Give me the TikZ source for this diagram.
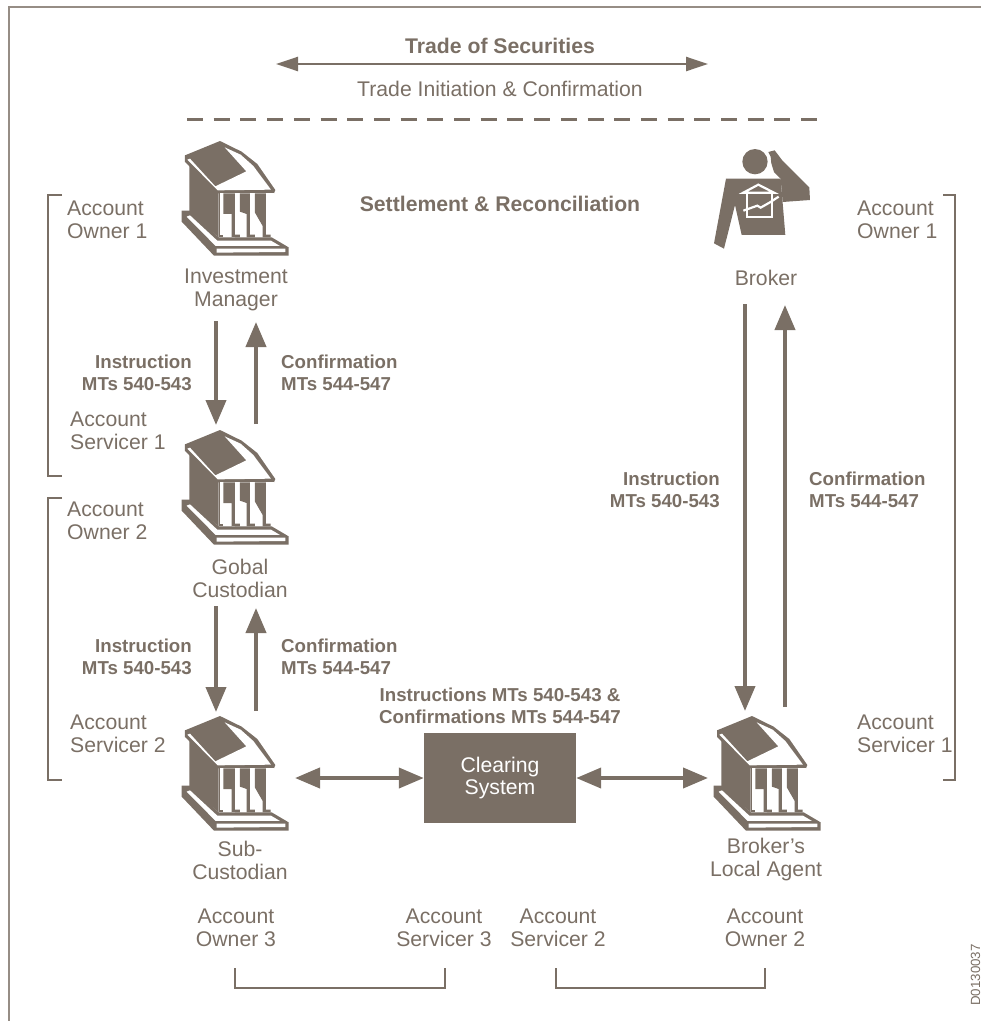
\documentclass[tikz,border=0pt]{standalone}
\usepackage{fontspec}
\setmainfont{Liberation Sans}
\usetikzlibrary{arrows.meta}
\definecolor{ink}{RGB}{122,111,101}
\definecolor{framec}{RGB}{150,141,133}
\tikzset{
  x=1pt,y=-1pt,
  lab/.style={text=ink,font=\fontsize{21.2}{23}\selectfont,inner sep=0pt,align=center,anchor=center},
  labl/.style={lab,align=left,anchor=west},
  boldlab/.style={lab,font=\bfseries\fontsize{21.2}{23}\selectfont},
  small/.style={text=ink,font=\bfseries\fontsize{18.7}{22}\selectfont,inner sep=0pt},
  smr/.style={small,align=right,anchor=east},
  sml/.style={small,align=left,anchor=west},
  smc/.style={small,align=center,anchor=center},
  flow/.style={draw=ink,line width=4pt,-{Triangle[length=25pt,width=20pt]}},
  twoway/.style={draw=ink,line width=4pt,{Triangle[length=25pt,width=20pt]}-{Triangle[length=25pt,width=20pt]}},
  thin2way/.style={draw=ink,line width=2.4pt,{Triangle[length=22pt,width=14pt]}-{Triangle[length=22pt,width=14pt]}},
  bracket/.style={draw=ink,line width=1.8pt},
  pics/bank/.style={code={
    \begin{scope}[x=0.3333pt,y=-0.3333pt]
      % wall
      \fill[ink] (58,70)--(146,158)--(146,292)--(58,216)--cycle;
      % roof silhouette
      \fill[ink] (45,46)--(150,3)--(215,35)--(262,72)--(316,150)--(312,160)--(142,160)--(45,66)--cycle;
      % white parts of roof
      \fill[white] (52,59)--(60,56)--(136,139)--(229,94)--(164,22)--(212,44)--(250,78)--(303,149)--(143,151)--cycle;
      % column area
      \fill[white] (146,160)--(312,160)--(312,292)--(146,292)--cycle;
      \fill[ink] (146,160)--(148,160)--(148,292)--(146,292)--cycle;
      \fill[ink] (160,160)--(195,160)--(195,292)--(210,292)--(210,284)--(195,284)--(195,284)--(185,292)--(185,222)--(160,222)--cycle;
      \fill[ink] (210,160)--(240,160)--(240,284)--(255,284)--(255,292)--(230,292)--(230,222)--(210,215)--cycle;
      \fill[ink] (255,160)--(288,160)--(288,284)--(302,284)--(302,292)--(278,292)--(278,258)--(255,218)--cycle;
      \fill[ink] (146,284)--(160,284)--(160,292)--(146,292)--cycle;
      \fill[ink] (185,284)--(210,284)--(210,292)--(185,292)--cycle;
      % base
      \fill[ink] (35,212)--(60,212)--(146,292)--(305,292)--(356,322)--(356,347)--(132,347)--(35,245)--cycle;
      \fill[white] (50,230)--(137,318)--(330,318)--(303,302)--(142,302)--(60,226)--cycle;
      \fill[white] (140,326)--(346,326)--(346,336)--(140,338)--cycle;
    \end{scope}
  }},
  pics/brokerfig/.style={code={
    \begin{scope}[x=0.3333pt,y=-0.3333pt]
      \fill[ink] (165,65) circle[radius=38];
      \fill[ink] (205,36)--(224,31)--(246,60)--(328,142)--(330,180)--(248,186)--(242,116)--(222,96)--(214,70)--(212,50)--cycle;
      \fill[ink] (78,116)--(242,116)--(256,285)--(125,285)--(105,195)--(72,326)--(42,310)--cycle;
      \draw[white,line width=2.2pt,line join=miter] (130,158)--(175,134)--(222,158)--cycle;
      \draw[white,line width=2.2pt] (141,160)--(141,230)--(216,230)--(216,160);
      \draw[white,line width=2.2pt] (130,212)--(172,197)--(182,203)--(210,187)--(236,170);
    \end{scope}
  }},
}
\begin{document}
\begin{tikzpicture}
\useasboundingbox (0,0) rectangle (981,1021);
\draw[framec,line width=1.6pt] (9,1021)--(9,7)--(981,7);

% icons
\pic at (170,140) {bank};
\pic at (170,429) {bank};
\pic at (170,715) {bank};
\pic at (702,715) {bank};
\pic at (700,140) {brokerfig};

% anchors for connectors
\coordinate (tl) at (276,64); \coordinate (tr) at (708,64);
\coordinate (dl) at (187,119); \coordinate (dr) at (818,119);
\coordinate (imS) at (216,321); \coordinate (gcN1) at (216,425);
\coordinate (gcN2) at (256,424); \coordinate (imS2) at (256,322);
\coordinate (gcS) at (216,606); \coordinate (scN1) at (216,712);
\coordinate (scN2) at (256,711); \coordinate (gcS2) at (256,608);
\coordinate (brS) at (745,304); \coordinate (laN1) at (745,711);
\coordinate (laN2) at (785,707); \coordinate (brS2) at (785,305);
\coordinate (scE) at (295,778); \coordinate (laW) at (708,778);

% clearing
\node[fill=ink,minimum width=152pt,minimum height=90pt,inner sep=0pt,text=white,font=\fontsize{21.2}{22}\selectfont,align=center] (clr) at (500,778) {Clearing\\System};

% connectors
\draw[thin2way] (tl)--(tr);
\draw[draw=ink,line width=3pt,dash pattern=on 16pt off 10.7pt] (dl)--(dr);
\draw[flow] (imS)--(gcN1);
\draw[flow] (gcN2)--(imS2);
\draw[flow] (gcS)--(scN1);
\draw[flow] (scN2)--(gcS2);
\draw[flow] (brS)--(laN1);
\draw[flow] (laN2)--(brS2);
\draw[twoway] (scE)--(clr.west);
\draw[twoway] (clr.east)--(laW);

% brackets
\coordinate (b1a) at (62,195); \coordinate (b1b) at (48,195); \coordinate (b1c) at (48,476); \coordinate (b1d) at (62,476);
\coordinate (b2a) at (62,498); \coordinate (b2b) at (48,498); \coordinate (b2c) at (48,780); \coordinate (b2d) at (62,780);
\coordinate (b3a) at (943,195); \coordinate (b3b) at (955,195); \coordinate (b3c) at (955,780); \coordinate (b3d) at (943,780);
\coordinate (b4a) at (235,968); \coordinate (b4b) at (235,988); \coordinate (b4c) at (445,988); \coordinate (b4d) at (445,968);
\coordinate (b5a) at (556,968); \coordinate (b5b) at (556,988); \coordinate (b5c) at (765,988); \coordinate (b5d) at (765,968);
\draw[bracket] (b1a)--(b1b)--(b1c)--(b1d);
\draw[bracket] (b2a)--(b2b)--(b2c)--(b2d);
\draw[bracket] (b3a)--(b3b)--(b3c)--(b3d);
\draw[bracket] (b4a)--(b4b)--(b4c)--(b4d);
\draw[bracket] (b5a)--(b5b)--(b5c)--(b5d);

% headings
\node[boldlab] (t1) at (500,46) {Trade of Securities};
\node[lab] (t2) at (500,89) {Trade Initiation \& Confirmation};
\node[boldlab] (t3) at (500,204) {Settlement \& Reconciliation};

% left labels
\node[labl] (a1) at (67,220) {Account\\Owner 1};
\node[labl] (a2) at (70,431) {Account\\Servicer 1};
\node[labl] (a3) at (67,521) {Account\\Owner 2};
\node[labl] (a4) at (70,734) {Account\\Servicer 2};
% right labels
\node[labl] (a5) at (857,220) {Account\\Owner 1};
\node[labl] (a6) at (857,734) {Account\\Servicer 1};

% names
\node[lab] (n1) at (236,290) {Investment\\Manager};
\node[lab] (n2) at (240,578) {Gobal\\Custodian};
\node[lab] (n3) at (240,860) {Sub-\\Custodian};
\node[lab] (n4) at (766,860) {Broker's\\Local Agent};
\node[lab] (n5) at (766,278) {Broker};

% bottom
\node[lab] (o3) at (236,928) {Account\\Owner 3};
\node[lab] (s3) at (444,928) {Account\\Servicer 3};
\node[lab] (s2) at (558,928) {Account\\Servicer 2};
\node[lab] (o2) at (765,928) {Account\\Owner 2};

% flow labels
\node[smr] (f1) at (192,373) {Instruction\\MTs 540-543};
\node[sml] (f2) at (281,373) {Confirmation\\MTs 544-547};
\node[smr] (f3) at (192,657) {Instruction\\MTs 540-543};
\node[sml] (f4) at (281,657) {Confirmation\\MTs 544-547};
\node[smr] (f5) at (720,490) {Instruction\\MTs 540-543};
\node[sml] (f6) at (809,490) {Confirmation\\MTs 544-547};
\node[smc] (f7) at (500,706) {Instructions MTs 540-543 \&\\Confirmations MTs 544-547};

\node[text=ink,font=\fontsize{13.3}{14}\selectfont,rotate=90,inner sep=0pt] (id) at (975.5,975) {D0130037};
\end{tikzpicture}
\end{document}
